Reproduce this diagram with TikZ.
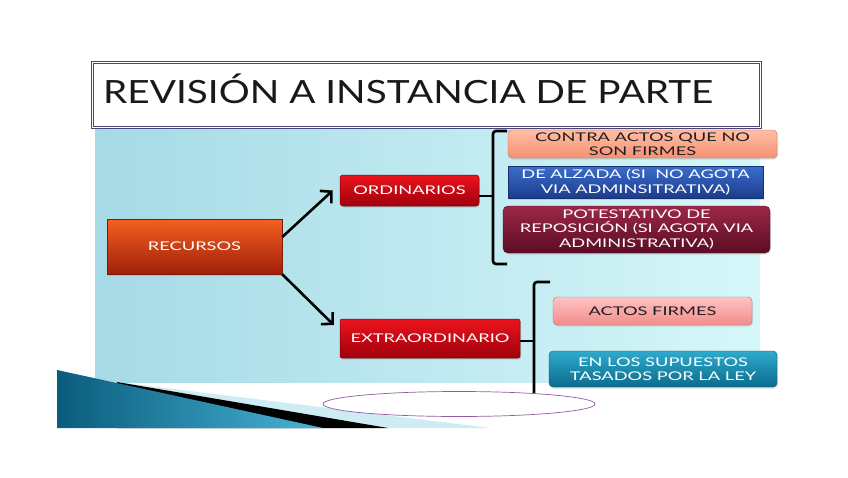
\documentclass[tikz,border=0pt]{standalone}
\usepackage{fontspec}
\setmainfont{Lato}
\newfontfamily\titlefont[FakeStretch=1.21]{Lato}
\newfontfamily\boxfont[FakeStretch=1.52]{Lato}
\usetikzlibrary{arrows.meta,shapes.geometric,calc,shadows}
\definecolor{panelL}{RGB}{166,218,230}
\definecolor{panelR}{RGB}{214,247,249}
\definecolor{titleframe}{RGB}{70,72,120}
\definecolor{titletext}{RGB}{25,25,25}
\definecolor{recT}{RGB}{245,96,32}
\definecolor{recB}{RGB}{160,32,10}
\definecolor{redT}{RGB}{235,20,28}
\definecolor{redB}{RGB}{160,0,12}
\definecolor{salT}{RGB}{255,190,165}
\definecolor{salB}{RGB}{245,145,115}
\definecolor{bluT}{RGB}{58,110,205}
\definecolor{bluB}{RGB}{28,60,140}
\definecolor{marT}{RGB}{155,40,72}
\definecolor{marB}{RGB}{92,12,36}
\definecolor{pinT}{RGB}{255,195,195}
\definecolor{pinB}{RGB}{242,140,140}
\definecolor{tealT}{RGB}{45,170,205}
\definecolor{tealB}{RGB}{12,108,140}
\definecolor{decoL}{RGB}{10,92,124}
\definecolor{decoR}{RGB}{72,180,215}
\definecolor{decoLight}{RGB}{205,236,243}
\definecolor{ellcol}{RGB}{150,90,165}
\definecolor{darktext}{RGB}{30,30,30}
\tikzset{
  boxnode/.style={inner sep=0pt, align=center, font=\boxfont\fontsize{12}{14.5}\selectfont,
    drop shadow={opacity=0.25, shadow xshift=1pt, shadow yshift=-1.5pt}},
  arrowline/.style={line width=2.6pt, black, -{Straight Barb[length=8pt,width=17pt]}},
  brk/.style={line width=2.6pt, black, rounded corners=3pt},
}
\begin{document}
\begin{tikzpicture}[x=1pt,y=-1pt]
\useasboundingbox (0,0) rectangle (848,477);
\fill[white] (0,0) rectangle (848,477);
% background panel
\shade[left color=panelL, right color=panelR] (95,128) rectangle (760,382);
% bottom-left decoration
\fill[decoLight] (117,382) -- (490,428) -- (117,428) -- cycle;
\fill[black] (117,382) -- (388,428) -- (117,428) -- cycle;
\shade[left color=decoL, right color=decoR] (57,370) -- (323,428) -- (57,428) -- cycle;
% title
\node[draw=titleframe, double=white, double distance=1.2pt, line width=0.7pt, fill=white,
      minimum width=668pt, minimum height=65pt, inner sep=0pt, anchor=north west] (tbox) at (92,62) {};
\node[anchor=base west, inner sep=0pt, font=\titlefont\fontsize{32}{36}\selectfont, text=titletext] (title) at (103,103) {REVISIÓN A INSTANCIA DE PARTE};
% main boxes
\node[boxnode, draw=recB!80!black, line width=0.5pt, top color=recT, bottom color=recB, text=white,
      minimum width=175pt, minimum height=55pt] (rec) at (194.5,246.5) {RECURSOS};
\node[boxnode, rounded corners=3pt, draw=redB!80!black, line width=0.5pt, top color=redT, bottom color=redB, text=white,
      minimum width=139pt, minimum height=31pt] (ord) at (409.5,190.5) {ORDINARIOS};
\node[boxnode, rounded corners=2pt, draw=redB!80!black, line width=0.5pt, top color=redT, bottom color=redB, text=white,
      minimum width=180pt, minimum height=39pt] (ext) at (430,338.5) {EXTRAORDINARIO};
% arrows
\coordinate (tipA) at ([xshift=-7pt]ord.west);
\coordinate (tipB) at ([xshift=-6pt,yshift=13.5pt]ext.west);
\draw[arrowline] ([yshift=9.5pt]rec.east) -- (tipA);
\draw[arrowline] (rec.south east) -- (tipB);
% bracket ordinarios
\coordinate (b1top) at (507,131);
\coordinate (b1bot) at (507,264);
\coordinate (b1mid) at (493,196);
\draw[brk] (b1top) -- (493,131) -- (493,264) -- (b1bot);
\draw[line width=2.6pt, black] ([yshift=-5.5pt]ord.east) -- (b1mid);
% bracket extraordinario
\coordinate (b2top) at (550,282);
\coordinate (b2bot) at (534,394);
\coordinate (b2mid) at (534,341);
\draw[brk] (b2top) -- (534,282) -- (b2bot);
\draw[line width=2.6pt, black] ([yshift=-2.5pt]ext.east) -- (b2mid);
% ellipse
\node[ellipse, draw=ellcol, line width=0.7pt, fill=white, minimum width=272pt, minimum height=25pt, inner sep=0pt] (ell) at (459,404) {};
% right boxes
\node[boxnode, rounded corners=4pt, draw=salB!80!black, line width=0.4pt, top color=salT, bottom color=salB, text=darktext,
      minimum width=269pt, minimum height=28pt] (contra) at (642.5,144) {CONTRA ACTOS QUE NO\\SON FIRMES};
\node[boxnode, draw=bluB!80!black, line width=0.4pt, top color=bluT, bottom color=bluB, text=white,
      minimum width=255pt, minimum height=32pt] (alzada) at (635.5,182) {DE ALZADA (SI\ \ NO AGOTA\\VIA ADMINSITRATIVA)};
\node[boxnode, rounded corners=5pt, draw=marB!80!black, line width=0.4pt, top color=marT, bottom color=marB, text=white,
      minimum width=267pt, minimum height=47pt] (potest) at (636.5,229.5) {POTESTATIVO DE\\REPOSICIÓN (SI AGOTA VIA\\ADMINISTRATIVA)};
\node[boxnode, rounded corners=4pt, draw=pinB!80!black, line width=0.4pt, top color=pinT, bottom color=pinB, text=darktext,
      minimum width=199pt, minimum height=28pt] (firmes) at (652.5,311) {ACTOS FIRMES};
\node[boxnode, rounded corners=4pt, draw=tealB!80!black, line width=0.4pt, top color=tealT, bottom color=tealB, text=white,
      minimum width=228pt, minimum height=36pt] (supuestos) at (663,369) {EN LOS SUPUESTOS\\TASADOS POR LA LEY};
\end{tikzpicture}
\end{document}
